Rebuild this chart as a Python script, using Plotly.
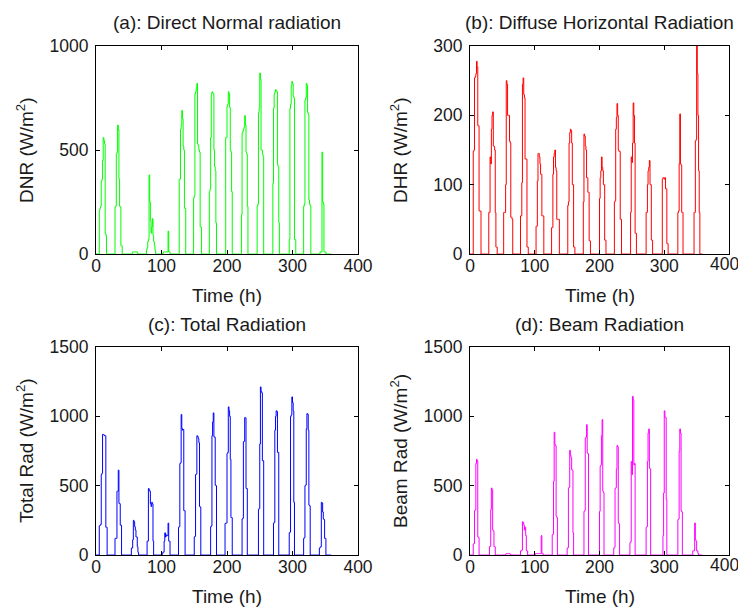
import plotly.graph_objects as go

# Hourly values for hours 4..19 of each of the 15 days
HOUR_OFFSET = 4
N_DAYS = 15

dnr_days = [
    [0, 210, 220, 230, 350, 360, 450, 560, 545, 530, 100, 90, 0, 0, 0, 0],
    [0, 225, 230, 480, 490, 620, 600, 360, 230, 225, 40, 40, 0, 0, 0, 0],
    [0, 0, 0, 5, 10, 10, 10, 10, 10, 10, 10, 5, 0, 0, 0, 0],
    [0, 20, 30, 60, 70, 380, 250, 160, 100, 130, 170, 90, 60, 40, 20, 0],
    [0, 0, 5, 10, 10, 10, 10, 10, 10, 10, 110, 10, 10, 0, 0, 0],
    [0, 0, 0, 360, 360, 600, 620, 690, 650, 520, 500, 220, 220, 0, 0, 0],
    [0, 270, 280, 770, 780, 800, 820, 530, 520, 500, 490, 130, 130, 0, 0, 0],
    [0, 300, 310, 560, 770, 780, 775, 770, 500, 420, 400, 150, 0, 0, 0, 0],
    [0, 0, 560, 560, 710, 720, 780, 770, 705, 500, 490, 300, 0, 0, 0, 0],
    [0, 0, 190, 580, 590, 600, 610, 665, 620, 490, 480, 230, 0, 0, 0, 0],
    [0, 0, 230, 240, 680, 700, 870, 840, 500, 500, 480, 470, 0, 0, 0, 0],
    [0, 0, 340, 700, 770, 780, 790, 785, 780, 430, 420, 150, 0, 0, 0, 0],
    [0, 0, 0, 70, 700, 720, 810, 830, 820, 760, 750, 70, 70, 0, 0, 0],
    [0, 230, 240, 740, 750, 820, 810, 680, 670, 260, 240, 230, 0, 0, 0, 0],
    [0, 0, 10, 10, 10, 490, 250, 240, 10, 10, 10, 0, 0, 0, 0, 0],
]

dhr_days = [
    [0, 148, 150, 254, 256, 260, 278, 270, 185, 185, 62, 62, 62, 0, 0, 0],
    [0, 60, 60, 140, 130, 180, 200, 205, 156, 155, 150, 60, 10, 10, 0, 0],
    [60, 60, 60, 100, 250, 245, 200, 200, 200, 163, 160, 53, 53, 50, 0, 0],
    [0, 0, 55, 55, 103, 245, 254, 230, 225, 137, 137, 137, 10, 10, 0, 0],
    [0, 0, 40, 40, 105, 145, 145, 140, 130, 115, 115, 55, 55, 55, 0, 0],
    [0, 0, 38, 38, 115, 140, 145, 150, 125, 120, 50, 50, 50, 50, 0, 0],
    [0, 0, 0, 70, 75, 160, 175, 180, 178, 160, 100, 100, 10, 10, 0, 0],
    [0, 0, 0, 75, 173, 170, 156, 150, 110, 110, 89, 89, 19, 19, 0, 0],
    [0, 0, 0, 0, 80, 110, 120, 140, 125, 120, 100, 100, 20, 20, 0, 0],
    [0, 0, 0, 75, 77, 180, 197, 217, 200, 150, 148, 148, 50, 50, 0, 0],
    [0, 0, 0, 0, 60, 140, 132, 160, 218, 200, 160, 30, 30, 0, 0, 0],
    [0, 0, 0, 0, 60, 60, 100, 120, 125, 135, 100, 100, 20, 20, 0, 0],
    [0, 0, 0, 0, 0, 108, 110, 110, 108, 110, 94, 94, 15, 15, 0, 0],
    [0, 0, 0, 0, 0, 60, 62, 130, 202, 130, 128, 60, 60, 0, 0, 0],
    [0, 0, 0, 0, 0, 0, 60, 60, 163, 165, 300, 260, 200, 120, 60, 0],
]

total_days = [
    [0, 210, 215, 220, 580, 590, 870, 868, 865, 860, 860, 200, 200, 0, 0, 0],
    [0, 120, 120, 120, 460, 460, 612, 372, 370, 215, 215, 0, 0, 0, 0, 0],
    [0, 0, 50, 50, 110, 250, 240, 204, 180, 130, 130, 60, 20, 0, 0, 0],
    [0, 0, 100, 100, 480, 470, 460, 370, 350, 380, 370, 100, 0, 0, 0, 0],
    [0, 10, 20, 20, 100, 160, 130, 145, 140, 140, 230, 100, 100, 0, 0, 0],
    [0, 0, 200, 205, 660, 665, 1013, 912, 900, 905, 320, 320, 0, 0, 0, 0],
    [0, 0, 130, 135, 580, 585, 860, 855, 840, 810, 350, 345, 0, 0, 0, 0],
    [0, 0, 0, 204, 210, 860, 960, 1025, 852, 850, 504, 500, 0, 0, 0, 0],
    [0, 228, 230, 230, 732, 740, 1068, 1040, 1000, 690, 270, 270, 0, 0, 0, 0],
    [0, 0, 0, 260, 265, 816, 820, 991, 990, 480, 480, 0, 0, 0, 0, 0],
    [0, 0, 0, 0, 330, 335, 800, 1212, 1180, 1170, 680, 680, 0, 0, 0, 0],
    [0, 0, 0, 230, 235, 900, 1000, 1040, 1035, 740, 740, 0, 0, 0, 0, 0],
    [0, 0, 0, 160, 165, 1000, 1010, 1140, 1100, 1040, 380, 0, 0, 0, 0, 0],
    [0, 120, 125, 500, 505, 910, 1020, 1015, 900, 360, 355, 0, 0, 0, 0, 0],
    [0, 50, 55, 60, 380, 375, 310, 260, 255, 120, 120, 0, 0, 0, 0, 0],
]

beam_days = [
    [0, 80, 82, 320, 325, 660, 690, 680, 130, 125, 0, 0, 0, 0, 0, 0],
    [0, 0, 60, 62, 327, 483, 470, 180, 175, 60, 60, 0, 0, 0, 0, 0],
    [0, 0, 0, 5, 10, 10, 10, 10, 10, 10, 5, 0, 0, 0, 0, 0],
    [0, 0, 30, 30, 35, 240, 235, 215, 180, 200, 140, 30, 30, 0, 0, 0],
    [5, 10, 10, 10, 10, 10, 10, 10, 10, 10, 140, 10, 10, 0, 0, 0],
    [0, 0, 0, 147, 150, 531, 885, 796, 790, 279, 270, 0, 0, 0, 0, 0],
    [0, 0, 50, 52, 483, 490, 755, 720, 700, 615, 610, 160, 0, 0, 0, 0],
    [0, 0, 0, 0, 315, 320, 844, 850, 940, 736, 730, 0, 0, 0, 0, 0],
    [0, 0, 0, 0, 315, 640, 650, 860, 976, 460, 450, 0, 0, 0, 0, 0],
    [0, 0, 50, 55, 480, 485, 620, 790, 780, 230, 225, 0, 0, 0, 0, 0],
    [0, 0, 0, 90, 95, 675, 580, 1144, 1120, 650, 660, 0, 0, 0, 0, 0],
    [0, 0, 0, 0, 200, 205, 675, 880, 909, 627, 620, 0, 0, 0, 0, 0],
    [0, 0, 0, 0, 0, 0, 140, 447, 1040, 995, 990, 400, 0, 0, 0, 0],
    [0, 0, 0, 0, 0, 255, 260, 748, 909, 880, 320, 310, 0, 0, 0, 0],
    [0, 0, 0, 0, 30, 30, 30, 231, 110, 100, 30, 30, 10, 0, 0, 0],
]

titles = ["(a): Direct Normal radiation", "(b): Diffuse Horizontal Radiation",
          "(c): Total Radiation", "(d): Beam Radiation"]
ylabels = ["DNR (W/m<sup>2</sup>)", "DHR (W/m<sup>2</sup>)",
           "Total Rad (W/m<sup>2</sup>)", "Beam Rad (W/m<sup>2</sup>)"]
xlabel = "Time (h)"
colors = ["#00ff00", "#ff0000", "#0000ff", "#ff00ff"]
y_ranges = [[0, 1000], [0, 300], [0, 1500], [0, 1500]]
y_ticks = [[0, 500, 1000], [0, 100, 200, 300], [0, 500, 1000, 1500], [0, 500, 1000, 1500]]
x_ticks = [0, 100, 200, 300, 400]


def build_series(days):
    hours = list(range(24 * N_DAYS))
    vals = [0.0] * len(hours)
    for d, prof in enumerate(days):
        for i, v in enumerate(prof):
            vals[24 * d + HOUR_OFFSET + i] = v
    return hours, vals


# The page body has an 8px margin, so the figure is offset by 8px inside the window.
OFF = 8
W, H = 746 - OFF, 609 - OFF
px = lambda v: (v - OFF) / W
py = lambda v: 1 - (v - OFF) / H

x_domains = [[px(96), px(358)], [px(470), px(729)], [px(96), px(358)], [px(470), px(729)]]
y_domains = [[py(254), py(46)], [py(254), py(46)], [py(555), py(347)], [py(555), py(347)]]

FONT = "Liberation Sans, Arial, sans-serif"
TXT = "#1a1a1a"
FS = 19
TFS = 17.5
fig = go.Figure()
layout = dict(width=W, height=H, margin=dict(l=0, r=0, t=0, b=0, pad=0, autoexpand=False),
              paper_bgcolor="white", plot_bgcolor="white", showlegend=False,
              font=dict(family=FONT, size=FS, color=TXT))
annotations = []

for k, days in enumerate([dnr_days, dhr_days, total_days, beam_days]):
    hrs, vals = build_series(days)
    sfx = "" if k == 0 else str(k + 1)
    fig.add_trace(go.Scatter(x=hrs, y=vals, mode="lines",
                             line=dict(color=colors[k], width=1, shape="hv"),
                             xaxis="x" + sfx, yaxis="y" + sfx, hoverinfo="skip"))
    common = dict(showline=True, linecolor="black", linewidth=1, mirror="ticks",
                  ticks="inside", ticklen=4, tickcolor="black", showgrid=False,
                  zeroline=False, automargin=False,
                  tickfont=dict(family=FONT, size=TFS, color=TXT))
    right_col = (k % 2 == 1)
    # right column: the last x tick label sits at the window edge, so it is drawn
    # as an annotation nudged a few px inward to stay fully visible
    xt_labels = [str(v) for v in x_ticks]
    if right_col:
        xt_labels[-1] = ""
    layout["xaxis" + sfx] = dict(domain=x_domains[k], range=[0, 400], tickvals=x_ticks,
                                 ticktext=xt_labels, anchor="y" + sfx,
                                 ticklabelstandoff=-4, **common)
    layout["yaxis" + sfx] = dict(domain=y_domains[k], range=y_ranges[k], tickvals=y_ticks[k],
                                 anchor="x" + sfx, ticklabelstandoff=3, **common)
    cx = (x_domains[k][0] + x_domains[k][1]) / 2
    top_px = 46 if k < 2 else 347
    bot_px = 254 if k < 2 else 555
    if right_col:
        annotations.append(dict(text=str(x_ticks[-1]), x=x_ticks[-1], xref="x" + sfx,
                                y=py(bot_px - 2), yref="paper", xshift=-5,
                                showarrow=False, xanchor="center", yanchor="top",
                                font=dict(family=FONT, size=TFS, color=TXT)))
    annotations.append(dict(text=titles[k], x=cx, y=py(top_px - 23), xref="paper", yref="paper",
                            showarrow=False, xanchor="center", yanchor="middle",
                            font=dict(family=FONT, size=FS, color=TXT)))
    annotations.append(dict(text=xlabel, x=cx, y=py(bot_px + 41), xref="paper", yref="paper",
                            showarrow=False, xanchor="center", yanchor="middle",
                            font=dict(family=FONT, size=FS, color=TXT)))
    ylx = 25 if k % 2 == 0 else 399
    annotations.append(dict(text=ylabels[k], x=px(ylx), y=(y_domains[k][0] + y_domains[k][1]) / 2,
                            xref="paper", yref="paper", showarrow=False, textangle=-90,
                            xanchor="center", yanchor="middle",
                            font=dict(family=FONT, size=FS, color=TXT)))

layout["annotations"] = annotations
fig.update_layout(**layout)
fig.write_html("out.html")
